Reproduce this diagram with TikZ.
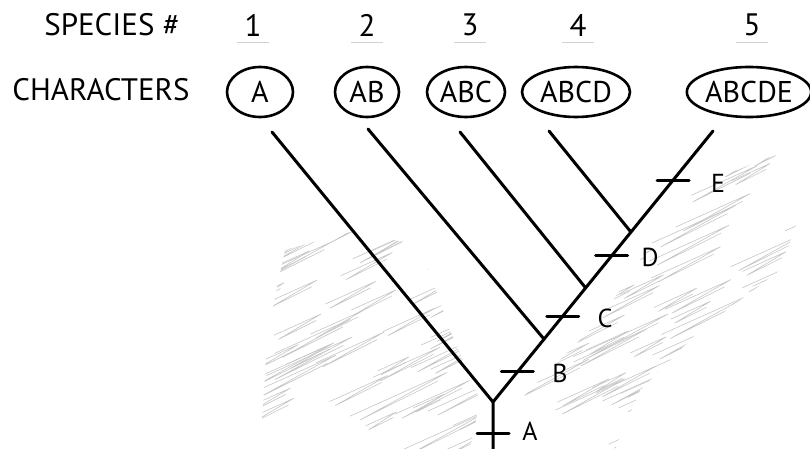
\documentclass[tikz,border=0pt]{standalone}
\usepackage{fontspec}
\setmainfont{PT Sans}
\usetikzlibrary{shapes.geometric,calc}

\tikzset{
  branch/.style={line width=3pt, line cap=round},
  charbox/.style={ellipse, draw, line width=2.6pt, minimum height=50pt, inner sep=0pt, font=\fontsize{30}{32}\selectfont},
  headtext/.style={font=\fontsize{31}{33}\selectfont},
  marklabel/.style={font=\fontsize{26}{28}\selectfont},
  guide/.style={gray!35, line width=0.8pt},
}

\begin{document}
\begin{tikzpicture}[x=1pt, y=-1pt, every node/.style={inner sep=0pt}]
  \useasboundingbox (0,0) rectangle (810,449);

  % pencil shading
  \pgfmathsetseed{11}
  \begin{scope}[gray!45, line width=0.6pt]
    \clip (268,330) -- (285,250) -- (350,232) -- (420,245) -- (450,330) -- (480,400)
          -- (470,449) -- (290,449) -- (262,420) -- cycle
          (495,449) -- (520,400) -- (600,320) -- (650,245) -- (700,185) -- (775,155)
          -- (805,200) -- (780,270) -- (700,330) -- (640,390) -- (615,449) -- cycle;
    \foreach \i in {1,...,150}{
      \pgfmathsetmacro\sx{240+rnd*560}
      \pgfmathsetmacro\sy{160+rnd*300}
      \pgfmathsetmacro\len{30+rnd*70}
      \draw (\sx,\sy) -- ++(\len,-0.45*\len) -- ++(-0.9*\len,0.45*\len+4) -- ++(0.8*\len,-0.4*\len);
    }
  \end{scope}

  % header rows
  \node[headtext] (species) at (112,25) {SPECIES \#};
  \node[headtext] (chars)   at (101,90) {CHARACTERS};

  \node[headtext] (n1) at (253,25) {1};
  \node[headtext] (n2) at (367,25) {2};
  \node[headtext] (n3) at (470,25) {3};
  \node[headtext] (n4) at (578,25) {4};
  \node[headtext] (n5) at (752,25) {5};
  \foreach \n in {n1,n2,n3,n4,n5}
    \draw[guide] ($(\n)+(-16,17)$) -- ($(\n)+(16,17)$);

  \node[charbox, minimum width=66pt]  (c1) at (260,92) {A};
  \node[charbox, minimum width=64pt]  (c2) at (367,92) {AB};
  \node[charbox, minimum width=78pt]  (c3) at (466,92) {ABC};
  \node[charbox, minimum width=108pt] (c4) at (576,92) {ABCD};
  \node[charbox, minimum width=117pt] (c5) at (749,92) {ABCDE};

  % tree
  \coordinate (root) at (493,402);
  \coordinate (base) at (493,449);
  \coordinate (t1) at (272,132);
  \coordinate (t2) at (368,129);
  \coordinate (t3) at (460,132);
  \coordinate (t4) at (549,131);
  \coordinate (t5) at (713,131);
  \coordinate (j2) at ($(root)!0.232!(t5)$);
  \coordinate (j3) at ($(root)!0.421!(t5)$);
  \coordinate (j4) at ($(root)!0.627!(t5)$);

  \draw[branch] (base) -- (root) -- (t5);
  \draw[branch] (root) -- (t1);
  \draw[branch] (j2) -- (t2);
  \draw[branch] (j3) -- (t3);
  \draw[branch] (j4) -- (t4);

  % character marks
  \coordinate (kA) at (493,433);
  \coordinate (kB) at ($(root)!0.111!(t5)$);
  \coordinate (kC) at ($(root)!0.317!(t5)$);
  \coordinate (kD) at ($(root)!0.539!(t5)$);
  \coordinate (kE) at ($(root)!0.819!(t5)$);
  \foreach \k in {kA,kB,kC,kD,kE}
    \draw[branch] (\k) +(-16,0) -- +(16,0);

  \node[marklabel] (lA) at (530,431) {A};
  \node[marklabel] (lB) at (560,373) {B};
  \node[marklabel] (lC) at (605,318) {C};
  \node[marklabel] (lD) at (650,257) {D};
  \node[marklabel] (lE) at (718,183) {E};
\end{tikzpicture}
\end{document}
